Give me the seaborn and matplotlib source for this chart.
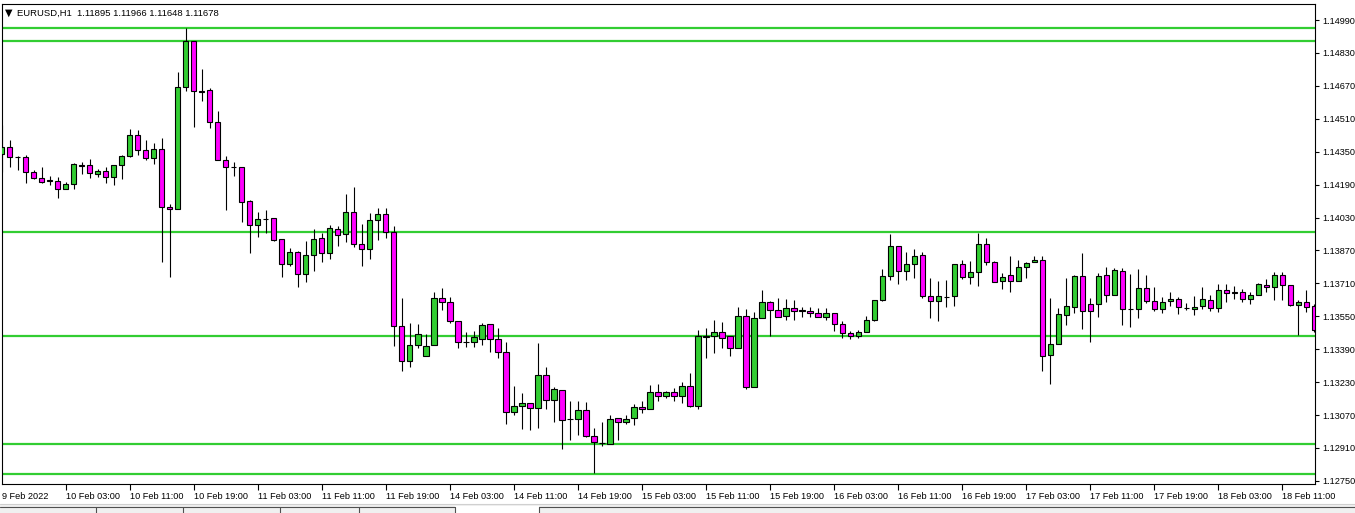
import numpy as np
import pandas as pd
import seaborn as sns
import matplotlib
matplotlib.use('Agg')
import matplotlib.pyplot as plt
from matplotlib.patches import Rectangle

# EURUSD H1 candles (bar 0 = 9 Feb 19:00)
opens = [1.14337, 1.14371, 1.14326, 1.14323, 1.14250, 1.14220, 1.14211, 1.14206, 1.14167, 1.14191,
         1.14284, 1.14284, 1.14243, 1.14255, 1.14225, 1.14284, 1.14329, 1.14429, 1.14357, 1.14318,
         1.14361, 1.14080, 1.14070, 1.14663, 1.14886, 1.14643, 1.14648, 1.14493, 1.14308, 1.14277,
         1.14274, 1.14109, 1.13992, 1.14024, 1.14026, 1.13924, 1.13803, 1.13861, 1.13754, 1.13846,
         1.13929, 1.13856, 1.13973, 1.13948, 1.14055, 1.13900, 1.13875, 1.14016, 1.14046, 1.13958,
         1.13501, 1.13331, 1.13409, 1.13355, 1.13409, 1.13637, 1.13618, 1.13529, 1.13425, 1.13423,
         1.13441, 1.13511, 1.13438, 1.13375, 1.13083, 1.13112, 1.13127, 1.13103, 1.13263, 1.13142,
         1.13190, 1.13052, 1.13052, 1.13093, 1.12967, 1.12936, 1.12931, 1.13054, 1.13035, 1.13054,
         1.13108, 1.13098, 1.13180, 1.13164, 1.13180, 1.13164, 1.13210, 1.13114, 1.13453, 1.13453,
         1.13472, 1.13453, 1.13398, 1.13550, 1.13208, 1.13540, 1.13618, 1.13579, 1.13550, 1.13589,
         1.13579, 1.13574, 1.13564, 1.13545, 1.13564, 1.13511, 1.13467, 1.13453, 1.13472, 1.13530,
         1.13628, 1.13744, 1.13890, 1.13769, 1.13803, 1.13846, 1.13647, 1.13623, 1.13645, 1.13647,
         1.13803, 1.13739, 1.13764, 1.13900, 1.13812, 1.13720, 1.13749, 1.13720, 1.13788, 1.13812,
         1.13822, 1.13360, 1.13414, 1.13555, 1.13594, 1.13744, 1.13608, 1.13608, 1.13749, 1.13652,
         1.13769, 1.13587, 1.13584, 1.13686, 1.13623, 1.13584, 1.13623, 1.13633, 1.13592, 1.13584,
         1.13599, 1.13628, 1.13589, 1.13676, 1.13667, 1.13667, 1.13633, 1.13652, 1.13701, 1.13691,
         1.13749, 1.13701, 1.13603, 1.13618, 1.13599]
highs = [1.14480, 1.14407, 1.14329, 1.14334, 1.14261, 1.14277, 1.14232, 1.14225, 1.14201, 1.14293,
         1.14300, 1.14313, 1.14264, 1.14276, 1.14284, 1.14334, 1.14460, 1.14455, 1.14405, 1.14392,
         1.14417, 1.14096, 1.14737, 1.14953, 1.14886, 1.14752, 1.14658, 1.14548, 1.14329, 1.14298,
         1.14274, 1.14115, 1.14055, 1.14067, 1.14026, 1.13924, 1.13882, 1.13867, 1.13916, 1.13974,
         1.13956, 1.13994, 1.13989, 1.14144, 1.14178, 1.13999, 1.14052, 1.14076, 1.14076, 1.13989,
         1.13641, 1.13517, 1.13513, 1.13464, 1.13668, 1.13686, 1.13642, 1.13529, 1.13472, 1.13477,
         1.13516, 1.13511, 1.13492, 1.13423, 1.13210, 1.13176, 1.13127, 1.13420, 1.13302, 1.13205,
         1.13190, 1.13137, 1.13137, 1.13132, 1.13005, 1.13035, 1.13069, 1.13054, 1.13069, 1.13122,
         1.13137, 1.13216, 1.13221, 1.13185, 1.13200, 1.13229, 1.13273, 1.13482, 1.13491, 1.13530,
         1.13521, 1.13453, 1.13595, 1.13584, 1.13569, 1.13678, 1.13623, 1.13637, 1.13632, 1.13628,
         1.13594, 1.13594, 1.13589, 1.13589, 1.13564, 1.13526, 1.13477, 1.13482, 1.13550, 1.13628,
         1.13778, 1.13950, 1.13890, 1.13861, 1.13875, 1.13861, 1.13735, 1.13720, 1.13725, 1.13803,
         1.13822, 1.13817, 1.13953, 1.13929, 1.13817, 1.13759, 1.13841, 1.13822, 1.13812, 1.13841,
         1.13841, 1.13639, 1.13589, 1.13735, 1.13749, 1.13856, 1.13638, 1.13759, 1.13788, 1.13783,
         1.13783, 1.13754, 1.13778, 1.13749, 1.13691, 1.13642, 1.13667, 1.13642, 1.13613, 1.13647,
         1.13691, 1.13652, 1.13706, 1.13706, 1.13696, 1.13681, 1.13667, 1.13710, 1.13730, 1.13764,
         1.13764, 1.13701, 1.13628, 1.13676, 1.13608]
lows = [1.14253, 1.14277, 1.14261, 1.14196, 1.14216, 1.14196, 1.14190, 1.14127, 1.14167, 1.14170,
        1.14242, 1.14224, 1.14229, 1.14199, 1.14190, 1.14219, 1.14323, 1.14336, 1.14310, 1.14292,
        1.13815, 1.13739, 1.14070, 1.14647, 1.14472, 1.14598, 1.14464, 1.14308, 1.14068, 1.14233,
        1.14010, 1.13856, 1.13937, 1.13953, 1.13916, 1.13743, 1.13796, 1.13694, 1.13718, 1.13772,
        1.13816, 1.13830, 1.13893, 1.13913, 1.13888, 1.13796, 1.13830, 1.13919, 1.13929, 1.13407,
        1.13286, 1.13305, 1.13394, 1.13355, 1.13409, 1.13581, 1.13516, 1.13398, 1.13402, 1.13402,
        1.13412, 1.13378, 1.13349, 1.13028, 1.13072, 1.13004, 1.12999, 1.13009, 1.13101, 1.13038,
        1.12907, 1.12950, 1.12975, 1.12962, 1.12790, 1.12921, 1.12931, 1.12950, 1.13025, 1.13023,
        1.13078, 1.13098, 1.13140, 1.13153, 1.13140, 1.13127, 1.13108, 1.13098, 1.13349, 1.13373,
        1.13398, 1.13359, 1.13398, 1.13195, 1.13208, 1.13540, 1.13453, 1.13545, 1.13532, 1.13532,
        1.13548, 1.13548, 1.13545, 1.13532, 1.13480, 1.13443, 1.13441, 1.13446, 1.13472, 1.13526,
        1.13623, 1.13725, 1.13705, 1.13725, 1.13735, 1.13637, 1.13540, 1.13526, 1.13594, 1.13598,
        1.13730, 1.13705, 1.13696, 1.13798, 1.13715, 1.13681, 1.13666, 1.13720, 1.13735, 1.13812,
        1.13286, 1.13223, 1.13414, 1.13506, 1.13565, 1.13487, 1.13424, 1.13545, 1.13618, 1.13652,
        1.13506, 1.13497, 1.13540, 1.13613, 1.13574, 1.13565, 1.13599, 1.13560, 1.13579, 1.13555,
        1.13584, 1.13574, 1.13569, 1.13618, 1.13633, 1.13621, 1.13608, 1.13652, 1.13667, 1.13628,
        1.13628, 1.13599, 1.13458, 1.13569, 1.13476]
closes = [1.14371, 1.14323, 1.14324, 1.14250, 1.14220, 1.14204, 1.14208, 1.14167, 1.14193, 1.14289,
          1.14282, 1.14245, 1.14255, 1.14225, 1.14284, 1.14329, 1.14429, 1.14357, 1.14318, 1.14361,
          1.14080, 1.14070, 1.14663, 1.14886, 1.14643, 1.14642, 1.14493, 1.14308, 1.14274, 1.14275,
          1.14108, 1.13992, 1.14021, 1.14021, 1.13921, 1.13803, 1.13861, 1.13754, 1.13846, 1.13924,
          1.13856, 1.13977, 1.13943, 1.14055, 1.13900, 1.13875, 1.14016, 1.14046, 1.13961, 1.13501,
          1.13331, 1.13409, 1.13462, 1.13404, 1.13637, 1.13618, 1.13529, 1.13423, 1.13423, 1.13448,
          1.13506, 1.13438, 1.13375, 1.13083, 1.13112, 1.13127, 1.13103, 1.13263, 1.13142, 1.13195,
          1.13044, 1.13051, 1.13093, 1.12967, 1.12937, 1.12934, 1.13049, 1.13035, 1.13049, 1.13108,
          1.13098, 1.13180, 1.13164, 1.13180, 1.13164, 1.13210, 1.13114, 1.13453, 1.13451, 1.13472,
          1.13446, 1.13398, 1.13550, 1.13208, 1.13540, 1.13618, 1.13579, 1.13545, 1.13589, 1.13574,
          1.13577, 1.13564, 1.13545, 1.13564, 1.13511, 1.13467, 1.13453, 1.13472, 1.13530, 1.13628,
          1.13744, 1.13890, 1.13769, 1.13803, 1.13841, 1.13647, 1.13623, 1.13647, 1.13644, 1.13803,
          1.13739, 1.13764, 1.13900, 1.13812, 1.13715, 1.13739, 1.13720, 1.13788, 1.13807, 1.13822,
          1.13356, 1.13414, 1.13560, 1.13599, 1.13744, 1.13574, 1.13574, 1.13744, 1.13652, 1.13774,
          1.13584, 1.13586, 1.13686, 1.13623, 1.13584, 1.13618, 1.13633, 1.13594, 1.13591, 1.13594,
          1.13633, 1.13589, 1.13676, 1.13662, 1.13665, 1.13633, 1.13652, 1.13706, 1.13691, 1.13749,
          1.13701, 1.13603, 1.13618, 1.13594, 1.13482]

# horizontal support / resistance levels
level_prices = [1.14953, 1.14890, 1.13961, 1.13456, 1.12931, 1.12785]

price_ticks = [1.12750, 1.12910, 1.13070, 1.13230, 1.13390, 1.13550, 1.13710, 1.13870,
               1.14030, 1.14190, 1.14350, 1.14510, 1.14670, 1.14830, 1.14990]
time_labels = ['9 Feb 2022', '10 Feb 03:00', '10 Feb 11:00', '10 Feb 19:00', '11 Feb 03:00',
               '11 Feb 11:00', '11 Feb 19:00', '14 Feb 03:00', '14 Feb 11:00', '14 Feb 19:00',
               '15 Feb 03:00', '15 Feb 11:00', '15 Feb 19:00', '16 Feb 03:00', '16 Feb 11:00',
               '16 Feb 19:00', '17 Feb 03:00', '17 Feb 11:00', '17 Feb 19:00', '18 Feb 03:00',
               '18 Feb 11:00']
header = 'EURUSD,H1  1.11895 1.11966 1.11648 1.11678'

df = pd.DataFrame({'open': opens, 'high': highs, 'low': lows, 'close': closes})
df['bar'] = np.arange(len(df))
df['bull'] = df['close'] >= df['open']

sns.set_style('ticks', rc={'axes.edgecolor': 'black', 'text.color': 'black',
                           'xtick.color': 'black', 'ytick.color': 'black'})
plt.rcParams['font.family'] = ['Liberation Sans', 'DejaVu Sans']

W, H = 1355, 513
fig = plt.figure(figsize=(W / 100, H / 100), dpi=100)
ax = fig.add_axes([1.5 / W, (H - 484) / H, (1315 - 1.5) / W, (484 - 4) / H])

for p in level_prices:
    ax.axhline(p, color='#32cd32', lw=1.6, zorder=1)

ax.vlines(df['bar'], df['low'], df['high'], color='black', lw=0.8, zorder=2)
body_bottom = df[['open', 'close']].min(axis=1)
body_height = (df['close'] - df['open']).abs().clip(lower=0.00001)
colors = np.where(df['bull'], '#32cd32', '#ff00ff')
ax.bar(df['bar'], body_height, bottom=body_bottom, width=0.64, color=colors,
       edgecolor='black', linewidth=0.8, zorder=3)

ax.set_xlim(-0.04, 164.1)
ax.set_ylim(1.12735, 1.15068)

ax.yaxis.tick_right()
ax.set_yticks(price_ticks)
ax.set_yticklabels([f'{p:.5f}' for p in price_ticks])
ax.set_xticks(range(0, 8 * len(time_labels), 8))
ax.set_xticklabels(time_labels, ha='left')
ax.tick_params(axis='y', right=True, left=False, direction='out', length=3, width=0.8,
               pad=2, labelsize=6.6)
ax.tick_params(axis='x', bottom=True, direction='out', length=4, width=0.8, pad=2,
               labelsize=6.6)
ax.xaxis.get_major_ticks()[0].tick1line.set_visible(False)
for s in ax.spines.values():
    s.set_linewidth(0.8)
ax.set_xlabel('')
ax.set_ylabel('')

fig.text(5 / W, 1 - 13 / H, '\u25bc', fontsize=7, va='center', ha='left',
         family=['DejaVu Sans'])
fig.text(17 / W, 1 - 13 / H, header, fontsize=6.8, va='center', ha='left')

# terminal tab strip at the bottom
fig.patches.append(Rectangle((0, 0), 1, 9 / H, transform=fig.transFigure,
                             facecolor='#f0f0f0', edgecolor='none'))
fig.add_artist(plt.Line2D([0, 1], [9 / H, 9 / H], transform=fig.transFigure,
                          color='#d0d0d0', lw=0.8))
fig.patches.append(Rectangle((455 / W, 0), 84 / W, 7 / H, transform=fig.transFigure,
                             facecolor='white', edgecolor='none'))
for xs in [96, 183, 280, 359, 455, 539]:
    fig.add_artist(plt.Line2D([xs / W, xs / W], [0, 6 / H], transform=fig.transFigure,
                              color='#505050', lw=0.8))
fig.add_artist(plt.Line2D([0, 455 / W], [6 / H, 6 / H], transform=fig.transFigure,
                          color='#505050', lw=0.8))
fig.add_artist(plt.Line2D([539 / W, 1], [6 / H, 6 / H], transform=fig.transFigure,
                          color='#505050', lw=0.8))

fig.savefig('out.png', dpi=100)
